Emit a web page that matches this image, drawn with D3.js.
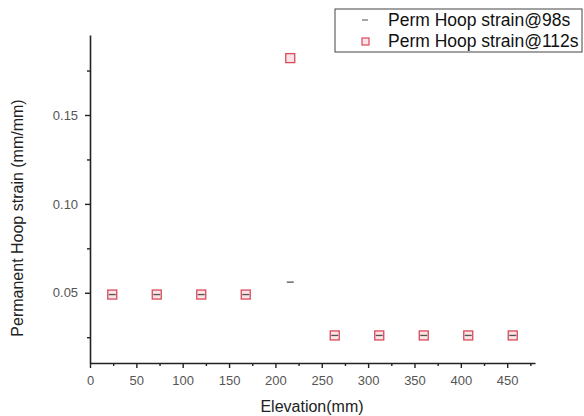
<!DOCTYPE html>
<html>
<head>
<script src="https://d3js.org/d3.v7.min.js"></script>
<style>
  body { margin: 0; background: #fff; }
  text { font-family: "Liberation Sans", Arial, sans-serif; }
</style>
</head>
<body>
<div id="chart"></div>
<script>
// data
var elevation = [24, 72, 120, 168, 216, 264, 312, 360, 408, 456];
var strain98 = [0.049, 0.049, 0.049, 0.049, 0.056, 0.026, 0.026, 0.026, 0.026, 0.026];
var strain112 = [0.049, 0.049, 0.049, 0.049, 0.182, 0.026, 0.026, 0.026, 0.026, 0.026];
var xTicks = [0, 50, 100, 150, 200, 250, 300, 350, 400, 450];
var yTicks = [0.05, 0.10, 0.15];
var seriesNames = ["Perm Hoop strain@98s", "Perm Hoop strain@112s"];

var width = 584, height = 416;
var mLeft = 90, mRight = 535, mTop = 35, mBottom = 363;

var svg = d3.select("#chart").append("svg")
  .attr("width", width).attr("height", height);

var x = d3.scaleLinear().domain([0, 480]).range([mLeft, mRight]);
var y = d3.scaleLinear().domain([0.0105, 0.195]).range([mBottom, mTop]);

// x axis
var xAxis = svg.append("g")
  .attr("transform", "translate(0," + mBottom + ")")
  .call(d3.axisBottom(x).tickValues(xTicks).tickSize(5).tickSizeOuter(0).tickFormat(d3.format("d")));
svg.append("g")
  .attr("transform", "translate(0," + mBottom + ")")
  .call(d3.axisBottom(x).tickValues(xTicks.map(function(d) { return d + 25; })).tickSize(3).tickSizeOuter(0).tickFormat(""))
  .call(function(g) { g.select(".domain").remove(); });

// y axis
var yAxis = svg.append("g")
  .attr("transform", "translate(" + mLeft + ",0)")
  .call(d3.axisLeft(y).tickValues(yTicks).tickSize(5).tickSizeOuter(0).tickFormat(d3.format(".2f")));
svg.append("g")
  .attr("transform", "translate(" + mLeft + ",0)")
  .call(d3.axisLeft(y).tickValues([0.025, 0.075, 0.125, 0.175]).tickSize(3).tickSizeOuter(0).tickFormat(""))
  .call(function(g) { g.select(".domain").remove(); });

svg.selectAll(".domain").attr("stroke", "#222").attr("stroke-width", 1.6);
svg.selectAll(".tick line").attr("stroke", "#222").attr("stroke-width", 1.4);
svg.selectAll(".tick text").attr("fill", "#555").style("font-size", "13px");
xAxis.selectAll(".tick text").attr("dy", "1.05em");
yAxis.selectAll(".tick text").attr("dx", "-0.3em");

// axis titles
svg.append("text")
  .attr("x", 312).attr("y", 412)
  .attr("text-anchor", "middle").attr("fill", "#222")
  .style("font-size", "16px").text("Elevation(mm)");
svg.append("text")
  .attr("transform", "translate(23,218) rotate(-90)")
  .attr("text-anchor", "middle").attr("fill", "#222")
  .style("font-size", "16px").text("Permanent Hoop strain (mm/mm)");

// squares (112s)
svg.selectAll(".sq").data(elevation).enter().append("rect")
  .attr("x", function(d) { return x(d) - 4.5; })
  .attr("y", function(d, i) { return y(strain112[i]) - 4.5; })
  .attr("width", 9).attr("height", 9)
  .attr("fill", "#fbe3e6").attr("stroke", "#d94a5c").attr("stroke-width", 1.3);

// dashes (98s)
svg.selectAll(".dash").data(elevation).enter().append("line")
  .attr("x1", function(d) { return x(d) - 3.5; })
  .attr("x2", function(d) { return x(d) + 3.5; })
  .attr("y1", function(d, i) { return y(strain98[i]); })
  .attr("y2", function(d, i) { return y(strain98[i]); })
  .attr("stroke", "#555").attr("stroke-width", 1.3);

// legend
var lg = svg.append("g");
lg.append("rect").attr("x", 335).attr("y", 9).attr("width", 247).attr("height", 43)
  .attr("fill", "#fff").attr("stroke", "#444").attr("stroke-width", 1);
lg.append("line").attr("x1", 362).attr("x2", 368).attr("y1", 20).attr("y2", 20)
  .attr("stroke", "#777").attr("stroke-width", 1.3);
lg.append("rect").attr("x", 362).attr("y", 38).attr("width", 7).attr("height", 7)
  .attr("fill", "#fbe3e6").attr("stroke", "#d94a5c").attr("stroke-width", 1.2);
lg.selectAll(".lt").data(seriesNames).enter().append("text")
  .attr("x", 388).attr("y", function(d, i) { return 26 + i * 21; })
  .attr("fill", "#111").style("font-size", "17.5px").text(function(d) { return d; });
</script>
</body>
</html>
